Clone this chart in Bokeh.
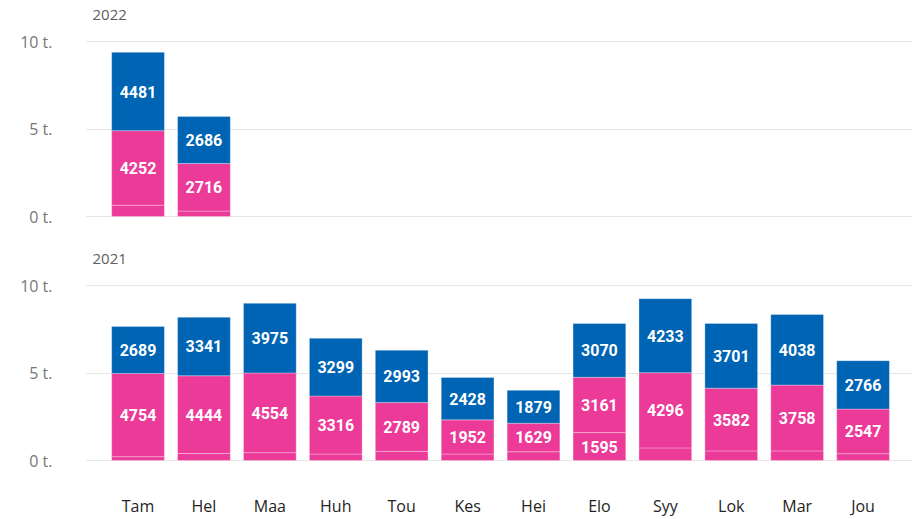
from bokeh.plotting import figure
from bokeh.models import ColumnDataSource, Range1d, FixedTicker, LabelSet, Label
from bokeh.layouts import column
from bokeh.core.properties import value
from bokeh.embed import file_html
from bokeh.resources import INLINE

months = ["Tam", "Hel", "Maa", "Huh", "Tou", "Kes", "Hei", "Elo", "Syy", "Lok", "Mar", "Jou"]

# 2022 (only Tam, Hel)
low_2022 = [650, 310]
mid_2022 = [4252, 2716]
top_2022 = [4481, 2686]

# 2021
low_2021 = [220, 400, 450, 370, 520, 370, 500, 1595, 720, 550, 550, 390]
mid_2021 = [4754, 4444, 4554, 3316, 2789, 1952, 1629, 3161, 4296, 3582, 3758, 2547]
top_2021 = [2689, 3341, 3975, 3299, 2993, 2428, 1879, 3070, 4233, 3701, 4038, 2766]

y_ticks = [0, 5000, 10000]
y_tick_labels = ["0 t.", "5 t.", "10 t."]

PINK = "#EC3A98"
BLUE = "#0064B4"
FONT = "Open Sans"
LABEL_FONT = "Roboto"

PX = 10000 / 175.0  # data units per pixel (10 t. spans 175 px)


def make_panel(year, low, mid, top, frame_h, border_bottom, show_x):
    n = len(low)
    xs = list(range(n))
    src = ColumnDataSource(dict(x=xs, low=low, mid=mid, top=top))
    xr = Range1d(-0.797, 11.75)
    y0 = -1 * PX
    yr = Range1d(y0, y0 + frame_h * PX)
    p = figure(width=912, height=frame_h + border_bottom, output_backend="svg",
               toolbar_location=None, x_range=xr, y_range=yr,
               min_border_left=85, min_border_right=0,
               min_border_top=0, min_border_bottom=border_bottom)
    p.vbar_stack(["low", "mid", "top"], x="x", width=0.8, source=src,
                 color=[PINK, PINK, BLUE], line_color="white", line_alpha=0.3, line_width=1)

    # value labels
    lx, ly, lt = [], [], []
    for i in range(n):
        base = 0
        for v in (low[i], mid[i], top[i]):
            if v >= 1000:
                lx.append(xs[i]); ly.append(base + v / 2); lt.append(str(v))
            base += v
    lsrc = ColumnDataSource(dict(x=lx, y=ly, t=lt))
    p.add_layout(LabelSet(x="x", y="y", text="t", source=lsrc, text_align="center",
                          text_baseline="middle", text_color="white",
                          text_font=value(LABEL_FONT), text_font_style="bold",
                          text_font_size="16px"))

    # panel year caption, 27 px above the 10 t. line
    p.add_layout(Label(x=xr.start, y=y_ticks[-1], x_offset=7, y_offset=27, text=year,
                       text_baseline="middle", text_align="left",
                       text_font=FONT, text_font_size="15px", text_color="#605E5C"))

    p.outline_line_color = None
    p.xgrid.grid_line_color = None
    p.ygrid.grid_line_color = "#E6E6E6"
    p.ygrid.grid_line_width = 1

    p.yaxis.ticker = FixedTicker(ticks=y_ticks)
    p.yaxis.major_label_overrides = {t: l for t, l in zip(y_ticks, y_tick_labels)}
    p.yaxis.axis_line_color = None
    p.yaxis.major_tick_line_color = None
    p.yaxis.minor_tick_line_color = None
    p.yaxis.major_label_standoff = 27
    p.yaxis.major_label_text_font = FONT
    p.yaxis.major_label_text_font_size = "16px"
    p.yaxis.major_label_text_color = "#777777"

    if show_x:
        p.xaxis.ticker = FixedTicker(ticks=list(range(len(months))))
        p.xaxis.major_label_overrides = {i: m for i, m in enumerate(months)}
        p.xaxis.axis_line_color = None
        p.xaxis.major_tick_line_color = None
        p.xaxis.minor_tick_line_color = None
        p.xaxis.major_label_standoff = 27
        p.xaxis.major_label_text_font = FONT
        p.xaxis.major_label_text_font_size = "16px"
        p.xaxis.major_label_text_color = "#252423"
    else:
        p.xaxis.visible = False
    return p


p1 = make_panel("2022", low_2022, mid_2022, top_2022, 217, 19, False)
p2 = make_panel("2021", low_2021, mid_2021, top_2021, 225, 58, True)

layout = column(p1, p2, spacing=0)
open("out.html", "w").write(file_html(layout, INLINE))
